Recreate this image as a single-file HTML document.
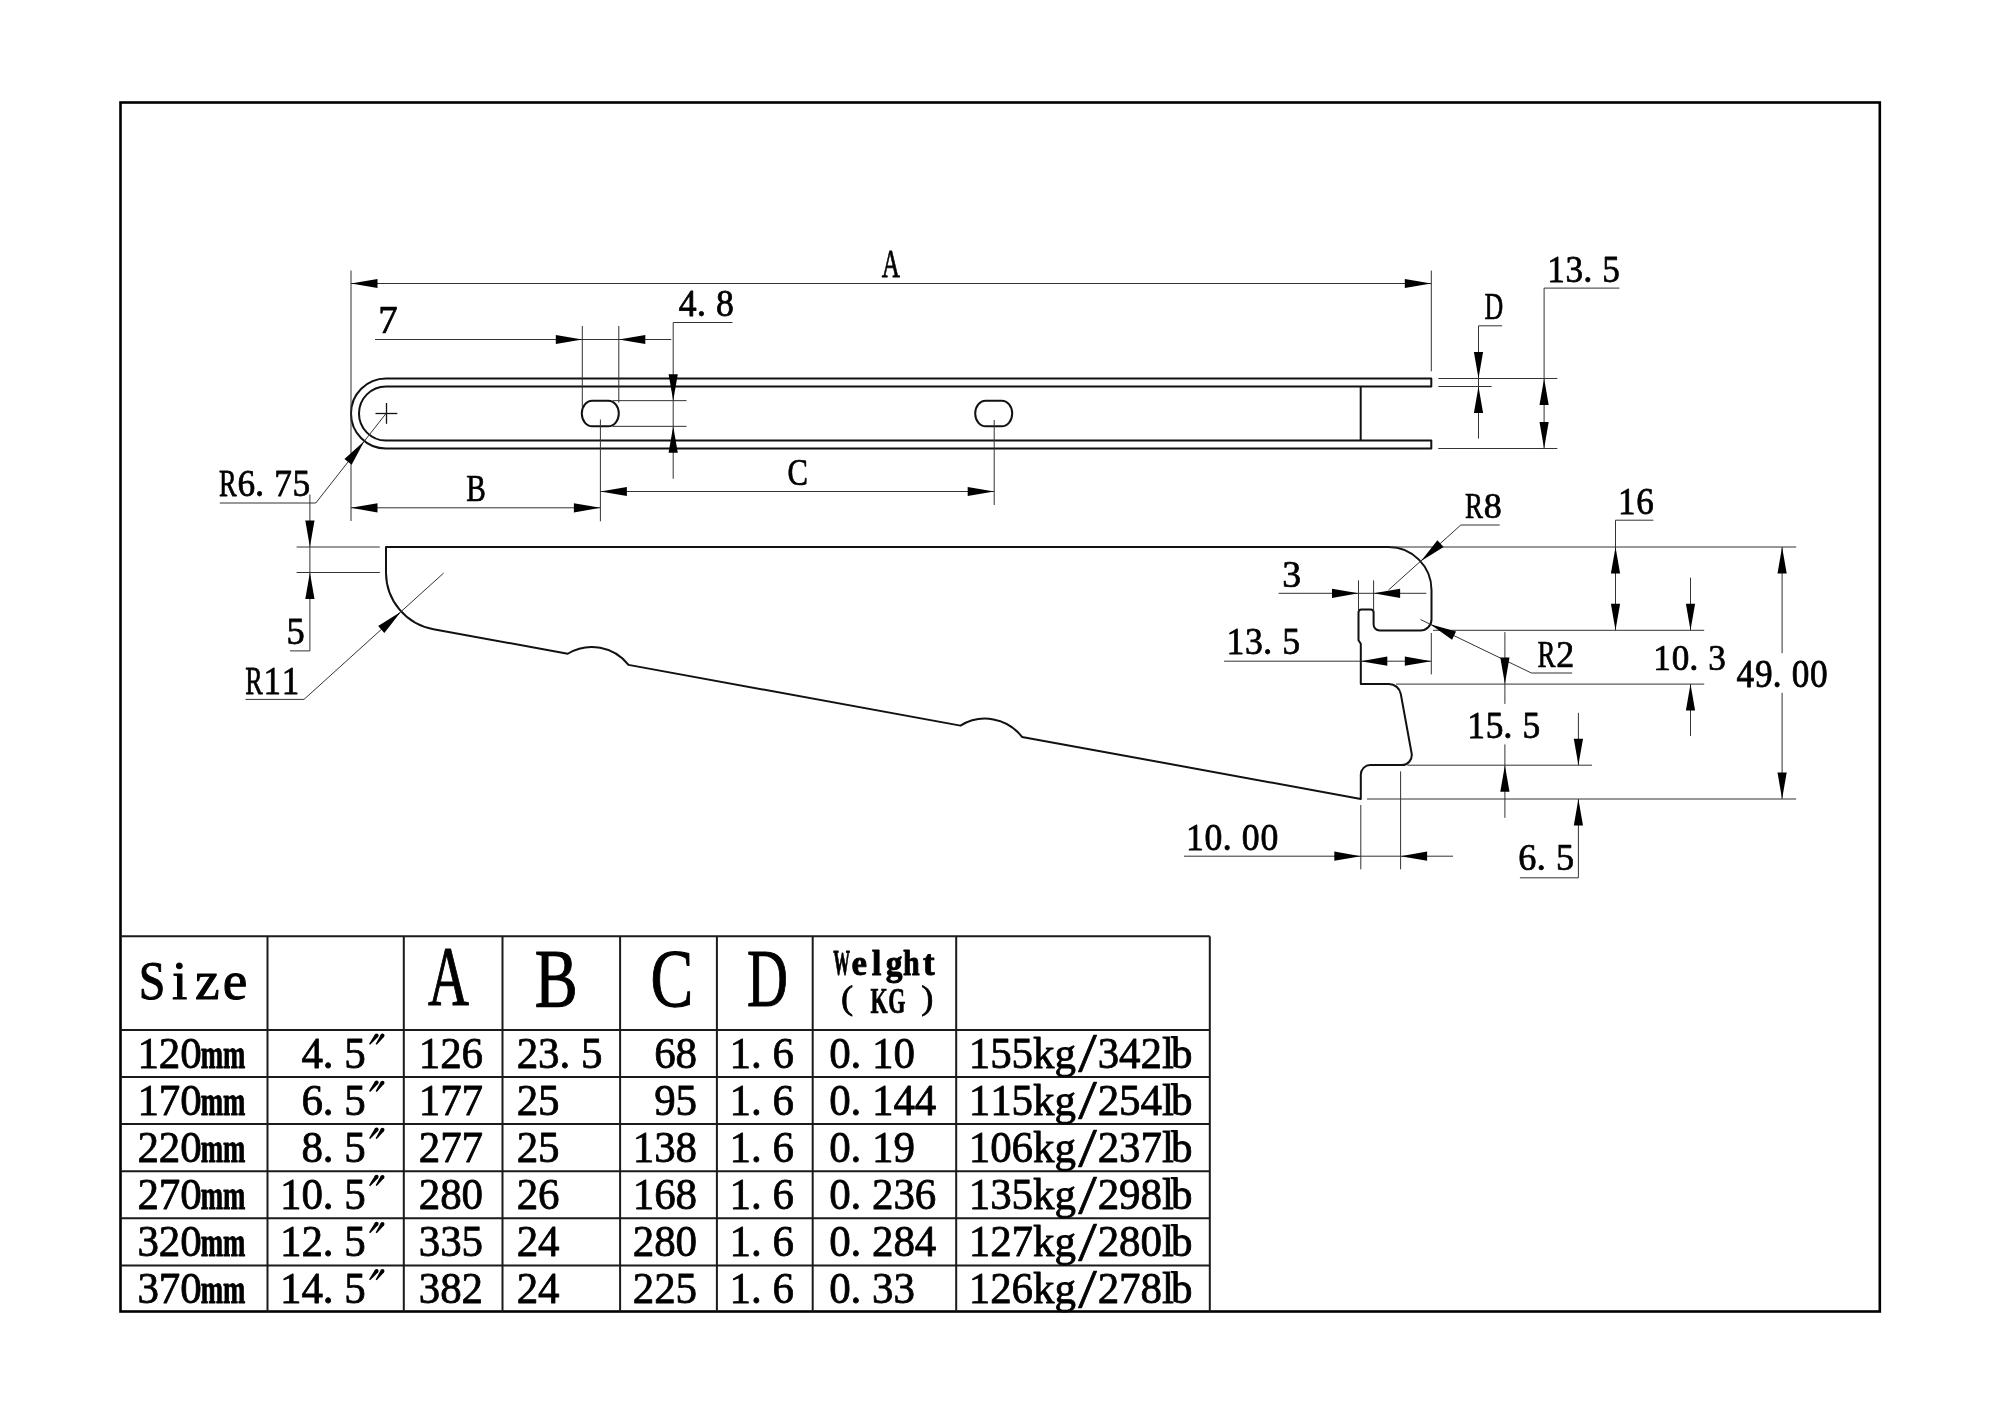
<!DOCTYPE html>
<html><head><meta charset="utf-8"><title>Bracket drawing</title>
<style>
html,body{margin:0;padding:0;background:#fff;}
body{width:2000px;height:1414px;overflow:hidden;}
svg{display:block;}
text{font-family:"Liberation Serif",serif;}
svg{will-change:transform;}
</style></head>
<body>
<svg width="2000" height="1414" viewBox="0 0 2000 1414">
<rect width="2000" height="1414" fill="#fff"/>
<rect x="120.5" y="102.5" width="1759.3" height="1209" fill="none" stroke="#000" stroke-width="2.6"/>
<line x1="120.5" y1="936.2" x2="1209.8" y2="936.2" stroke="#1a1a1a" stroke-width="2.0"/>
<line x1="120.5" y1="1029.9" x2="1209.8" y2="1029.9" stroke="#1a1a1a" stroke-width="2.0"/>
<line x1="120.5" y1="1077" x2="1209.8" y2="1077" stroke="#1a1a1a" stroke-width="2.0"/>
<line x1="120.5" y1="1124.1" x2="1209.8" y2="1124.1" stroke="#1a1a1a" stroke-width="2.0"/>
<line x1="120.5" y1="1171.2" x2="1209.8" y2="1171.2" stroke="#1a1a1a" stroke-width="2.0"/>
<line x1="120.5" y1="1218.3" x2="1209.8" y2="1218.3" stroke="#1a1a1a" stroke-width="2.0"/>
<line x1="120.5" y1="1265.4" x2="1209.8" y2="1265.4" stroke="#1a1a1a" stroke-width="2.0"/>
<line x1="267.5" y1="936.2" x2="267.5" y2="1311.5" stroke="#1a1a1a" stroke-width="2.0"/>
<line x1="403.8" y1="936.2" x2="403.8" y2="1311.5" stroke="#1a1a1a" stroke-width="2.0"/>
<line x1="502.5" y1="936.2" x2="502.5" y2="1311.5" stroke="#1a1a1a" stroke-width="2.0"/>
<line x1="620.1" y1="936.2" x2="620.1" y2="1311.5" stroke="#1a1a1a" stroke-width="2.0"/>
<line x1="716.9" y1="936.2" x2="716.9" y2="1311.5" stroke="#1a1a1a" stroke-width="2.0"/>
<line x1="812.7" y1="936.2" x2="812.7" y2="1311.5" stroke="#1a1a1a" stroke-width="2.0"/>
<line x1="956.2" y1="936.2" x2="956.2" y2="1311.5" stroke="#1a1a1a" stroke-width="2.0"/>
<line x1="1209.8" y1="936.2" x2="1209.8" y2="1311.5" stroke="#1a1a1a" stroke-width="2.0"/>
<text transform="translate(137.4 1067.9) scale(0.9492 1)" x="0 22.54 45.09" y="0" font-size="45.3" font-weight="normal" fill="#000" stroke="#000" stroke-width="0.80" stroke-linejoin="round">120</text>
<g transform="matrix(0.26818 0 0 0.43082 200.78 1067.9)" font-size="100" font-weight="bold" fill="#000" stroke="#000" stroke-width="2.21" stroke-linejoin="round"><text x="0" y="0">m</text><text x="83.3" y="0">m</text></g>
<text transform="translate(301.4 1067.9) scale(0.9492 1)" x="0 22.54 45.09" y="0" font-size="45.3" font-weight="normal" fill="#000" stroke="#000" stroke-width="0.80" stroke-linejoin="round">4.5</text>
<polygon points="375.02,1034.17 369.05,1043.97 370.15,1044.83 378.18,1036.63" fill="#000"/><circle cx="376.6" cy="1035.4" r="2" fill="#000"/>
<polygon points="380.87,1034.44 375.63,1043.99 376.77,1044.81 384.13,1036.76" fill="#000"/><circle cx="382.5" cy="1035.6" r="2" fill="#000"/>
<text transform="translate(418.8 1067.9) scale(0.9492 1)" x="0 22.54 45.09" y="0" font-size="45.3" font-weight="normal" fill="#000" stroke="#000" stroke-width="0.80" stroke-linejoin="round">126</text>
<text transform="translate(516.7 1067.9) scale(0.9492 1)" x="0 22.54 45.09 67.63" y="0" font-size="45.3" font-weight="normal" fill="#000" stroke="#000" stroke-width="0.80" stroke-linejoin="round">23.5</text>
<text transform="translate(654.2 1067.9) scale(0.9492 1)" x="0 22.54" y="0" font-size="45.3" font-weight="normal" fill="#000" stroke="#000" stroke-width="0.80" stroke-linejoin="round">68</text>
<text transform="translate(729.6 1067.9) scale(0.9492 1)" x="0 22.54 45.09" y="0" font-size="45.3" font-weight="normal" fill="#000" stroke="#000" stroke-width="0.80" stroke-linejoin="round">1.6</text>
<text transform="translate(829.2 1067.9) scale(0.9492 1)" x="0 22.54 45.09 67.63" y="0" font-size="45.3" font-weight="normal" fill="#000" stroke="#000" stroke-width="0.80" stroke-linejoin="round">0.10</text>
<text transform="translate(968.8 1067.9) scale(0.9492 1)" x="0 22.54 45.09 67.63 90.18" y="0" font-size="45.3" font-weight="normal" fill="#000" stroke="#000" stroke-width="0.80" stroke-linejoin="round">155kg</text>
<g transform="matrix(0.66947 0 0 0.55311 1078.2 1071.36)" font-size="100" font-weight="normal" fill="#000" stroke="#000" stroke-width="1.23" stroke-linejoin="round"><text x="0" y="0">/</text></g>
<text transform="translate(1097.7 1067.9) scale(0.9492 1)" x="0 22.54 45.09 67.63 77.12" y="0" font-size="45.3" font-weight="normal" fill="#000" stroke="#000" stroke-width="0.80" stroke-linejoin="round">342lb</text>
<text transform="translate(137.4 1115) scale(0.9492 1)" x="0 22.54 45.09" y="0" font-size="45.3" font-weight="normal" fill="#000" stroke="#000" stroke-width="0.80" stroke-linejoin="round">170</text>
<g transform="matrix(0.26818 0 0 0.43082 200.78 1115)" font-size="100" font-weight="bold" fill="#000" stroke="#000" stroke-width="2.21" stroke-linejoin="round"><text x="0" y="0">m</text><text x="83.3" y="0">m</text></g>
<text transform="translate(301.4 1115) scale(0.9492 1)" x="0 22.54 45.09" y="0" font-size="45.3" font-weight="normal" fill="#000" stroke="#000" stroke-width="0.80" stroke-linejoin="round">6.5</text>
<polygon points="375.02,1081.27 369.05,1091.07 370.15,1091.93 378.18,1083.73" fill="#000"/><circle cx="376.6" cy="1082.5" r="2" fill="#000"/>
<polygon points="380.87,1081.54 375.63,1091.09 376.77,1091.91 384.13,1083.86" fill="#000"/><circle cx="382.5" cy="1082.7" r="2" fill="#000"/>
<text transform="translate(418.8 1115) scale(0.9492 1)" x="0 22.54 45.09" y="0" font-size="45.3" font-weight="normal" fill="#000" stroke="#000" stroke-width="0.80" stroke-linejoin="round">177</text>
<text transform="translate(516.7 1115) scale(0.9492 1)" x="0 22.54" y="0" font-size="45.3" font-weight="normal" fill="#000" stroke="#000" stroke-width="0.80" stroke-linejoin="round">25</text>
<text transform="translate(654.2 1115) scale(0.9492 1)" x="0 22.54" y="0" font-size="45.3" font-weight="normal" fill="#000" stroke="#000" stroke-width="0.80" stroke-linejoin="round">95</text>
<text transform="translate(729.6 1115) scale(0.9492 1)" x="0 22.54 45.09" y="0" font-size="45.3" font-weight="normal" fill="#000" stroke="#000" stroke-width="0.80" stroke-linejoin="round">1.6</text>
<text transform="translate(829.2 1115) scale(0.9492 1)" x="0 22.54 45.09 67.63 90.18" y="0" font-size="45.3" font-weight="normal" fill="#000" stroke="#000" stroke-width="0.80" stroke-linejoin="round">0.144</text>
<text transform="translate(968.8 1115) scale(0.9492 1)" x="0 22.54 45.09 67.63 90.18" y="0" font-size="45.3" font-weight="normal" fill="#000" stroke="#000" stroke-width="0.80" stroke-linejoin="round">115kg</text>
<g transform="matrix(0.66947 0 0 0.55311 1078.2 1118.46)" font-size="100" font-weight="normal" fill="#000" stroke="#000" stroke-width="1.23" stroke-linejoin="round"><text x="0" y="0">/</text></g>
<text transform="translate(1097.7 1115) scale(0.9492 1)" x="0 22.54 45.09 67.63 77.12" y="0" font-size="45.3" font-weight="normal" fill="#000" stroke="#000" stroke-width="0.80" stroke-linejoin="round">254lb</text>
<text transform="translate(137.4 1162.1) scale(0.9492 1)" x="0 22.54 45.09" y="0" font-size="45.3" font-weight="normal" fill="#000" stroke="#000" stroke-width="0.80" stroke-linejoin="round">220</text>
<g transform="matrix(0.26818 0 0 0.43082 200.78 1162.1)" font-size="100" font-weight="bold" fill="#000" stroke="#000" stroke-width="2.21" stroke-linejoin="round"><text x="0" y="0">m</text><text x="83.3" y="0">m</text></g>
<text transform="translate(301.4 1162.1) scale(0.9492 1)" x="0 22.54 45.09" y="0" font-size="45.3" font-weight="normal" fill="#000" stroke="#000" stroke-width="0.80" stroke-linejoin="round">8.5</text>
<polygon points="375.02,1128.37 369.05,1138.17 370.15,1139.03 378.18,1130.83" fill="#000"/><circle cx="376.6" cy="1129.6" r="2" fill="#000"/>
<polygon points="380.87,1128.64 375.63,1138.19 376.77,1139.01 384.13,1130.96" fill="#000"/><circle cx="382.5" cy="1129.8" r="2" fill="#000"/>
<text transform="translate(418.8 1162.1) scale(0.9492 1)" x="0 22.54 45.09" y="0" font-size="45.3" font-weight="normal" fill="#000" stroke="#000" stroke-width="0.80" stroke-linejoin="round">277</text>
<text transform="translate(516.7 1162.1) scale(0.9492 1)" x="0 22.54" y="0" font-size="45.3" font-weight="normal" fill="#000" stroke="#000" stroke-width="0.80" stroke-linejoin="round">25</text>
<text transform="translate(632.8 1162.1) scale(0.9492 1)" x="0 22.54 45.09" y="0" font-size="45.3" font-weight="normal" fill="#000" stroke="#000" stroke-width="0.80" stroke-linejoin="round">138</text>
<text transform="translate(729.6 1162.1) scale(0.9492 1)" x="0 22.54 45.09" y="0" font-size="45.3" font-weight="normal" fill="#000" stroke="#000" stroke-width="0.80" stroke-linejoin="round">1.6</text>
<text transform="translate(829.2 1162.1) scale(0.9492 1)" x="0 22.54 45.09 67.63" y="0" font-size="45.3" font-weight="normal" fill="#000" stroke="#000" stroke-width="0.80" stroke-linejoin="round">0.19</text>
<text transform="translate(968.8 1162.1) scale(0.9492 1)" x="0 22.54 45.09 67.63 90.18" y="0" font-size="45.3" font-weight="normal" fill="#000" stroke="#000" stroke-width="0.80" stroke-linejoin="round">106kg</text>
<g transform="matrix(0.66947 0 0 0.55311 1078.2 1165.56)" font-size="100" font-weight="normal" fill="#000" stroke="#000" stroke-width="1.23" stroke-linejoin="round"><text x="0" y="0">/</text></g>
<text transform="translate(1097.7 1162.1) scale(0.9492 1)" x="0 22.54 45.09 67.63 77.12" y="0" font-size="45.3" font-weight="normal" fill="#000" stroke="#000" stroke-width="0.80" stroke-linejoin="round">237lb</text>
<text transform="translate(137.4 1209.2) scale(0.9492 1)" x="0 22.54 45.09" y="0" font-size="45.3" font-weight="normal" fill="#000" stroke="#000" stroke-width="0.80" stroke-linejoin="round">270</text>
<g transform="matrix(0.26818 0 0 0.43082 200.78 1209.2)" font-size="100" font-weight="bold" fill="#000" stroke="#000" stroke-width="2.21" stroke-linejoin="round"><text x="0" y="0">m</text><text x="83.3" y="0">m</text></g>
<text transform="translate(280 1209.2) scale(0.9492 1)" x="0 22.54 45.09 67.63" y="0" font-size="45.3" font-weight="normal" fill="#000" stroke="#000" stroke-width="0.80" stroke-linejoin="round">10.5</text>
<polygon points="375.02,1175.47 369.05,1185.27 370.15,1186.13 378.18,1177.93" fill="#000"/><circle cx="376.6" cy="1176.7" r="2" fill="#000"/>
<polygon points="380.87,1175.74 375.63,1185.29 376.77,1186.11 384.13,1178.06" fill="#000"/><circle cx="382.5" cy="1176.9" r="2" fill="#000"/>
<text transform="translate(418.8 1209.2) scale(0.9492 1)" x="0 22.54 45.09" y="0" font-size="45.3" font-weight="normal" fill="#000" stroke="#000" stroke-width="0.80" stroke-linejoin="round">280</text>
<text transform="translate(516.7 1209.2) scale(0.9492 1)" x="0 22.54" y="0" font-size="45.3" font-weight="normal" fill="#000" stroke="#000" stroke-width="0.80" stroke-linejoin="round">26</text>
<text transform="translate(632.8 1209.2) scale(0.9492 1)" x="0 22.54 45.09" y="0" font-size="45.3" font-weight="normal" fill="#000" stroke="#000" stroke-width="0.80" stroke-linejoin="round">168</text>
<text transform="translate(729.6 1209.2) scale(0.9492 1)" x="0 22.54 45.09" y="0" font-size="45.3" font-weight="normal" fill="#000" stroke="#000" stroke-width="0.80" stroke-linejoin="round">1.6</text>
<text transform="translate(829.2 1209.2) scale(0.9492 1)" x="0 22.54 45.09 67.63 90.18" y="0" font-size="45.3" font-weight="normal" fill="#000" stroke="#000" stroke-width="0.80" stroke-linejoin="round">0.236</text>
<text transform="translate(968.8 1209.2) scale(0.9492 1)" x="0 22.54 45.09 67.63 90.18" y="0" font-size="45.3" font-weight="normal" fill="#000" stroke="#000" stroke-width="0.80" stroke-linejoin="round">135kg</text>
<g transform="matrix(0.66947 0 0 0.55311 1078.2 1212.66)" font-size="100" font-weight="normal" fill="#000" stroke="#000" stroke-width="1.23" stroke-linejoin="round"><text x="0" y="0">/</text></g>
<text transform="translate(1097.7 1209.2) scale(0.9492 1)" x="0 22.54 45.09 67.63 77.12" y="0" font-size="45.3" font-weight="normal" fill="#000" stroke="#000" stroke-width="0.80" stroke-linejoin="round">298lb</text>
<text transform="translate(137.4 1256.3) scale(0.9492 1)" x="0 22.54 45.09" y="0" font-size="45.3" font-weight="normal" fill="#000" stroke="#000" stroke-width="0.80" stroke-linejoin="round">320</text>
<g transform="matrix(0.26818 0 0 0.43082 200.78 1256.3)" font-size="100" font-weight="bold" fill="#000" stroke="#000" stroke-width="2.21" stroke-linejoin="round"><text x="0" y="0">m</text><text x="83.3" y="0">m</text></g>
<text transform="translate(280 1256.3) scale(0.9492 1)" x="0 22.54 45.09 67.63" y="0" font-size="45.3" font-weight="normal" fill="#000" stroke="#000" stroke-width="0.80" stroke-linejoin="round">12.5</text>
<polygon points="375.02,1222.57 369.05,1232.37 370.15,1233.23 378.18,1225.03" fill="#000"/><circle cx="376.6" cy="1223.8" r="2" fill="#000"/>
<polygon points="380.87,1222.84 375.63,1232.39 376.77,1233.21 384.13,1225.16" fill="#000"/><circle cx="382.5" cy="1224" r="2" fill="#000"/>
<text transform="translate(418.8 1256.3) scale(0.9492 1)" x="0 22.54 45.09" y="0" font-size="45.3" font-weight="normal" fill="#000" stroke="#000" stroke-width="0.80" stroke-linejoin="round">335</text>
<text transform="translate(516.7 1256.3) scale(0.9492 1)" x="0 22.54" y="0" font-size="45.3" font-weight="normal" fill="#000" stroke="#000" stroke-width="0.80" stroke-linejoin="round">24</text>
<text transform="translate(632.8 1256.3) scale(0.9492 1)" x="0 22.54 45.09" y="0" font-size="45.3" font-weight="normal" fill="#000" stroke="#000" stroke-width="0.80" stroke-linejoin="round">280</text>
<text transform="translate(729.6 1256.3) scale(0.9492 1)" x="0 22.54 45.09" y="0" font-size="45.3" font-weight="normal" fill="#000" stroke="#000" stroke-width="0.80" stroke-linejoin="round">1.6</text>
<text transform="translate(829.2 1256.3) scale(0.9492 1)" x="0 22.54 45.09 67.63 90.18" y="0" font-size="45.3" font-weight="normal" fill="#000" stroke="#000" stroke-width="0.80" stroke-linejoin="round">0.284</text>
<text transform="translate(968.8 1256.3) scale(0.9492 1)" x="0 22.54 45.09 67.63 90.18" y="0" font-size="45.3" font-weight="normal" fill="#000" stroke="#000" stroke-width="0.80" stroke-linejoin="round">127kg</text>
<g transform="matrix(0.66947 0 0 0.55311 1078.2 1259.76)" font-size="100" font-weight="normal" fill="#000" stroke="#000" stroke-width="1.23" stroke-linejoin="round"><text x="0" y="0">/</text></g>
<text transform="translate(1097.7 1256.3) scale(0.9492 1)" x="0 22.54 45.09 67.63 77.12" y="0" font-size="45.3" font-weight="normal" fill="#000" stroke="#000" stroke-width="0.80" stroke-linejoin="round">280lb</text>
<text transform="translate(137.4 1303.4) scale(0.9492 1)" x="0 22.54 45.09" y="0" font-size="45.3" font-weight="normal" fill="#000" stroke="#000" stroke-width="0.80" stroke-linejoin="round">370</text>
<g transform="matrix(0.26818 0 0 0.43082 200.78 1303.4)" font-size="100" font-weight="bold" fill="#000" stroke="#000" stroke-width="2.21" stroke-linejoin="round"><text x="0" y="0">m</text><text x="83.3" y="0">m</text></g>
<text transform="translate(280 1303.4) scale(0.9492 1)" x="0 22.54 45.09 67.63" y="0" font-size="45.3" font-weight="normal" fill="#000" stroke="#000" stroke-width="0.80" stroke-linejoin="round">14.5</text>
<polygon points="375.02,1269.67 369.05,1279.47 370.15,1280.33 378.18,1272.13" fill="#000"/><circle cx="376.6" cy="1270.9" r="2" fill="#000"/>
<polygon points="380.87,1269.94 375.63,1279.49 376.77,1280.31 384.13,1272.26" fill="#000"/><circle cx="382.5" cy="1271.1" r="2" fill="#000"/>
<text transform="translate(418.8 1303.4) scale(0.9492 1)" x="0 22.54 45.09" y="0" font-size="45.3" font-weight="normal" fill="#000" stroke="#000" stroke-width="0.80" stroke-linejoin="round">382</text>
<text transform="translate(516.7 1303.4) scale(0.9492 1)" x="0 22.54" y="0" font-size="45.3" font-weight="normal" fill="#000" stroke="#000" stroke-width="0.80" stroke-linejoin="round">24</text>
<text transform="translate(632.8 1303.4) scale(0.9492 1)" x="0 22.54 45.09" y="0" font-size="45.3" font-weight="normal" fill="#000" stroke="#000" stroke-width="0.80" stroke-linejoin="round">225</text>
<text transform="translate(729.6 1303.4) scale(0.9492 1)" x="0 22.54 45.09" y="0" font-size="45.3" font-weight="normal" fill="#000" stroke="#000" stroke-width="0.80" stroke-linejoin="round">1.6</text>
<text transform="translate(829.2 1303.4) scale(0.9492 1)" x="0 22.54 45.09 67.63" y="0" font-size="45.3" font-weight="normal" fill="#000" stroke="#000" stroke-width="0.80" stroke-linejoin="round">0.33</text>
<text transform="translate(968.8 1303.4) scale(0.9492 1)" x="0 22.54 45.09 67.63 90.18" y="0" font-size="45.3" font-weight="normal" fill="#000" stroke="#000" stroke-width="0.80" stroke-linejoin="round">126kg</text>
<g transform="matrix(0.66947 0 0 0.55311 1078.2 1306.86)" font-size="100" font-weight="normal" fill="#000" stroke="#000" stroke-width="1.23" stroke-linejoin="round"><text x="0" y="0">/</text></g>
<text transform="translate(1097.7 1303.4) scale(0.9492 1)" x="0 22.54 45.09 67.63 77.12" y="0" font-size="45.3" font-weight="normal" fill="#000" stroke="#000" stroke-width="0.80" stroke-linejoin="round">278lb</text>
<g transform="matrix(0.55362 0 0 0.55882 138.15 999)" font-size="100" font-weight="normal" fill="#000" stroke="#000" stroke-width="1.80" stroke-linejoin="round"><text transform="translate(1 0) scale(0.8631 1)">S</text><text x="61.11" y="0">i</text><text x="102.81" y="0">z</text><text x="152.81" y="0">e</text></g>
<g transform="matrix(0.85353 0 0 0.85434 427.19 1005.2)" font-size="100" font-weight="normal" fill="#000" stroke="#000" stroke-width="1.29" stroke-linejoin="round"><text transform="translate(1 0) scale(0.6647 1)">A</text></g>
<g transform="matrix(0.89595 0 0 0.83015 533.85 1006.06)" font-size="100" font-weight="normal" fill="#000" stroke="#000" stroke-width="1.28" stroke-linejoin="round"><text transform="translate(1 0) scale(0.7196 1)">B</text></g>
<g transform="matrix(0.89100 0 0 0.83349 649.58 1006.29)" font-size="100" font-weight="normal" fill="#000" stroke="#000" stroke-width="1.28" stroke-linejoin="round"><text transform="translate(1 0) scale(0.7196 1)">C</text></g>
<g transform="matrix(0.85206 0 0 0.82986 746.22 1006.44)" font-size="100" font-weight="normal" fill="#000" stroke="#000" stroke-width="1.31" stroke-linejoin="round"><text transform="translate(1 0) scale(0.6647 1)">D</text></g>
<g transform="matrix(0.34849 0 0 0.36806 833.01 975.1)" font-size="100" font-weight="bold" fill="#000" stroke="#000" stroke-width="2.51" stroke-linejoin="round"><text transform="translate(1 0) scale(0.4800 1)">W</text><text x="52.81" y="0">e</text><text x="111.11" y="0">l</text><text transform="translate(151 0) scale(0.9600 1)">g</text><text transform="translate(201 0) scale(0.8631 1)">h</text><text x="258.35" y="0">t</text></g>
<g transform="matrix(0.36599 0 0 0.34740 837.94 1008.6)" font-size="100" font-weight="normal" fill="#000" stroke="#000" stroke-width="2.10" stroke-linejoin="round"><text x="8.35" y="0">(</text></g>
<g transform="matrix(0.35798 0 0 0.36248 870.06 1012.6)" font-size="100" font-weight="bold" fill="#000" stroke="#000" stroke-width="1.94" stroke-linejoin="round"><text transform="translate(1 0) scale(0.6171 1)">K</text><text transform="translate(51 0) scale(0.6171 1)">G</text></g>
<g transform="matrix(0.36599 0 0 0.34740 918.26 1008.6)" font-size="100" font-weight="normal" fill="#000" stroke="#000" stroke-width="2.10" stroke-linejoin="round"><text x="8.35" y="0">)</text></g>
<path d="M1431.3,378.5 H386 A35,35 0 0 0 386,448.5 H1431.3 V440.5 H386 A27,27 0 0 1 386,386.5 H1431.3 Z" fill="none" stroke="#111" stroke-width="2.0" stroke-linejoin="round"/>
<line x1="1360.7" y1="386.5" x2="1360.7" y2="440.5" stroke="#111" stroke-width="2.0"/>
<rect x="581.8" y="400.65" width="37" height="25.7" rx="10.5" ry="12.85" fill="none" stroke="#111" stroke-width="2.0"/>
<rect x="975.2" y="400.65" width="37" height="25.7" rx="10.5" ry="12.85" fill="none" stroke="#111" stroke-width="2.0"/>
<line x1="375.5" y1="413.5" x2="397.3" y2="413.5" stroke="#111" stroke-width="1.3"/>
<line x1="386.5" y1="403" x2="386.5" y2="423.8" stroke="#111" stroke-width="1.3"/>
<line x1="351" y1="270.5" x2="351" y2="521" stroke="#333" stroke-width="1.0"/>
<line x1="1431.3" y1="270.6" x2="1431.3" y2="371.3" stroke="#333" stroke-width="1.0"/>
<line x1="351" y1="283.5" x2="1431.3" y2="283.5" stroke="#333" stroke-width="1.0"/>
<polygon points="351,283.5 377.5,278.9 377.5,288.1" fill="#000"/>
<polygon points="1431.3,283.5 1404.8,288.1 1404.8,278.9" fill="#000"/>
<g transform="matrix(0.37982 0 0 0.39233 881.47 277.1)" font-size="100" font-weight="normal" fill="#000" stroke="#000" stroke-width="1.94" stroke-linejoin="round"><text transform="translate(1 0) scale(0.6647 1)">A</text></g>
<line x1="375" y1="339.5" x2="671.3" y2="339.5" stroke="#333" stroke-width="1.0"/>
<polygon points="582.3,339.5 555.8,344.1 555.8,334.9" fill="#000"/>
<polygon points="618.8,339.5 645.3,334.9 645.3,344.1" fill="#000"/>
<line x1="582.3" y1="326" x2="582.3" y2="407" stroke="#333" stroke-width="1.0"/>
<line x1="618.8" y1="326" x2="618.8" y2="402.5" stroke="#333" stroke-width="1.0"/>
<g transform="matrix(0.40610 0 0 0.39708 377.92 332.7)" font-size="100" font-weight="normal" fill="#000" stroke="#000" stroke-width="1.87" stroke-linejoin="round"><text transform="translate(1 0) scale(0.9600 1)">7</text></g>
<polyline points="732.5,322.5 673.2,322.5 673.2,478.8" fill="none" stroke="#333" stroke-width="1.0"/>
<polygon points="673.2,400.65 668.6,374.15 677.8,374.15" fill="#000"/>
<polygon points="673.2,426.35 677.8,452.85 668.6,452.85" fill="#000"/>
<line x1="612.5" y1="400.65" x2="686.5" y2="400.65" stroke="#333" stroke-width="1.0"/>
<line x1="612.5" y1="426.35" x2="686.5" y2="426.35" stroke="#333" stroke-width="1.0"/>
<g transform="matrix(0.37201 0 0 0.37592 678.43 316.3)" font-size="100" font-weight="normal" fill="#000" stroke="#000" stroke-width="2.01" stroke-linejoin="round"><text transform="translate(1 0) scale(0.9600 1)">4</text><text x="49" y="0">.</text><text transform="translate(101 0) scale(0.9600 1)">8</text></g>
<line x1="600.4" y1="419.5" x2="600.4" y2="521.3" stroke="#333" stroke-width="1.0"/>
<line x1="351" y1="507.8" x2="600.4" y2="507.8" stroke="#333" stroke-width="1.0"/>
<polygon points="351,507.8 377.5,503.2 377.5,512.4" fill="#000"/>
<polygon points="600.4,507.8 573.9,512.4 573.9,503.2" fill="#000"/>
<g transform="matrix(0.40789 0 0 0.37722 465.75 501)" font-size="100" font-weight="normal" fill="#000" stroke="#000" stroke-width="1.91" stroke-linejoin="round"><text transform="translate(1 0) scale(0.7196 1)">B</text></g>
<line x1="994.2" y1="420" x2="994.2" y2="505" stroke="#333" stroke-width="1.0"/>
<line x1="600.4" y1="491.5" x2="994.2" y2="491.5" stroke="#333" stroke-width="1.0"/>
<polygon points="600.4,491.5 626.9,486.9 626.9,496.1" fill="#000"/>
<polygon points="994.2,491.5 967.7,496.1 967.7,486.9" fill="#000"/>
<g transform="matrix(0.42602 0 0 0.38513 787.12 485)" font-size="100" font-weight="normal" fill="#000" stroke="#000" stroke-width="1.85" stroke-linejoin="round"><text transform="translate(1 0) scale(0.7196 1)">C</text></g>
<polyline points="219.8,503 315.8,503 386,413.5" fill="none" stroke="#333" stroke-width="1.0"/>
<polygon points="364.4,441 351.66,464.69 344.43,459.01" fill="#000"/>
<g transform="matrix(0.36791 0 0 0.38815 218.67 496.4)" font-size="100" font-weight="normal" fill="#000" stroke="#000" stroke-width="1.98" stroke-linejoin="round"><text transform="translate(1 0) scale(0.7196 1)">R</text><text transform="translate(51 0) scale(0.9600 1)">6</text><text x="99" y="0">.</text><text transform="translate(151 0) scale(0.9600 1)">7</text><text transform="translate(201 0) scale(0.9600 1)">5</text></g>
<polyline points="1502.1,325.8 1478.5,325.8 1478.5,438.6" fill="none" stroke="#333" stroke-width="1.0"/>
<polygon points="1478.5,378.5 1473.9,352 1483.1,352" fill="#000"/>
<polygon points="1478.5,386.5 1483.1,413 1473.9,413" fill="#000"/>
<line x1="1438.3" y1="378.5" x2="1557.3" y2="378.5" stroke="#333" stroke-width="1.0"/>
<line x1="1438.3" y1="386.5" x2="1491.6" y2="386.5" stroke="#333" stroke-width="1.0"/>
<line x1="1438.3" y1="448.5" x2="1557.3" y2="448.5" stroke="#333" stroke-width="1.0"/>
<g transform="matrix(0.38919 0 0 0.37417 1484.07 318.8)" font-size="100" font-weight="normal" fill="#000" stroke="#000" stroke-width="1.97" stroke-linejoin="round"><text transform="translate(1 0) scale(0.6647 1)">D</text></g>
<polyline points="1619.4,288.1 1544.1,288.1 1544.1,448.5" fill="none" stroke="#333" stroke-width="1.0"/>
<polygon points="1544.1,378.5 1548.7,405 1539.5,405" fill="#000"/>
<polygon points="1544.1,448.5 1539.5,422 1548.7,422" fill="#000"/>
<g transform="matrix(0.36704 0 0 0.37909 1546.84 281.7)" font-size="100" font-weight="normal" fill="#000" stroke="#000" stroke-width="2.01" stroke-linejoin="round"><text transform="translate(1 0) scale(0.9600 1)">1</text><text transform="translate(51 0) scale(0.9600 1)">3</text><text x="99" y="0">.</text><text transform="translate(151 0) scale(0.9600 1)">5</text></g>
<path d="M386,547 H1388.5 A43,43 0 0 1 1431.5,590 V619.5 A11,11 0 0 1 1420.5,630.5 H1379.6 A6,6 0 0 1 1373.6,624.5 V612.4 A3,3 0 0 0 1370.6,609.4 H1361.5 A3,3 0 0 0 1358.5,612.4 V640.2 L1360.8,643.7 V684.1 H1389 A12,12 0 0 1 1400.8,693.95 L1411.6,753.3 A10,10 0 0 1 1401.8,765.1 H1370.3 A9.5,9.5 0 0 0 1360.8,774.6 V798.9 L1022,736.9 A46.6,46.6 0 0 0 960.5,725.64 L628.5,664.88 A46.6,46.6 0 0 0 567.7,653.76 L433.5,629.2 A57.6,57.6 0 0 1 386,573 Z" fill="none" stroke="#111" stroke-width="2.0" stroke-linejoin="round"/>
<line x1="1390" y1="547" x2="1796.2" y2="547" stroke="#333" stroke-width="1.0"/>
<line x1="1433" y1="630.3" x2="1704.2" y2="630.3" stroke="#333" stroke-width="1.0"/>
<line x1="1396" y1="684.1" x2="1704.2" y2="684.1" stroke="#333" stroke-width="1.0"/>
<line x1="1407.4" y1="765.2" x2="1592" y2="765.2" stroke="#333" stroke-width="1.0"/>
<line x1="1367" y1="799" x2="1796.2" y2="799" stroke="#333" stroke-width="1.0"/>
<polyline points="290,650.9 309.9,650.9 309.9,494.5" fill="none" stroke="#333" stroke-width="1.0"/>
<polygon points="309.9,547 305.3,520.5 314.5,520.5" fill="#000"/>
<polygon points="309.9,572.5 314.5,599 305.3,599" fill="#000"/>
<line x1="296.6" y1="547" x2="379.8" y2="547" stroke="#333" stroke-width="1.0"/>
<line x1="296.6" y1="572.5" x2="379.8" y2="572.5" stroke="#333" stroke-width="1.0"/>
<g transform="matrix(0.38012 0 0 0.37875 286.2 644)" font-size="100" font-weight="normal" fill="#000" stroke="#000" stroke-width="1.98" stroke-linejoin="round"><text transform="translate(1 0) scale(0.9600 1)">5</text></g>
<polyline points="245.5,699.4 304,699.4 443.6,573.1" fill="none" stroke="#333" stroke-width="1.0"/>
<polygon points="400.9,611.7 384.34,632.89 378.16,626.07" fill="#000"/>
<g transform="matrix(0.36387 0 0 0.39082 244.88 693.5)" font-size="100" font-weight="normal" fill="#000" stroke="#000" stroke-width="1.99" stroke-linejoin="round"><text transform="translate(1 0) scale(0.7196 1)">R</text><text transform="translate(51 0) scale(0.9600 1)">1</text><text transform="translate(101 0) scale(0.9600 1)">1</text></g>
<line x1="1278.6" y1="593.3" x2="1426.3" y2="593.3" stroke="#333" stroke-width="1.0"/>
<polygon points="1358.5,593.3 1332,597.9 1332,588.7" fill="#000"/>
<polygon points="1373.6,593.3 1400.1,588.7 1400.1,597.9" fill="#000"/>
<line x1="1358.5" y1="580.4" x2="1358.5" y2="611" stroke="#333" stroke-width="1.0"/>
<line x1="1373.6" y1="580.4" x2="1373.6" y2="611" stroke="#333" stroke-width="1.0"/>
<g transform="matrix(0.39338 0 0 0.38211 1281.8 587)" font-size="100" font-weight="normal" fill="#000" stroke="#000" stroke-width="1.93" stroke-linejoin="round"><text transform="translate(1 0) scale(0.9600 1)">3</text></g>
<polyline points="1499.7,525 1460.8,525 1388.5,590" fill="none" stroke="#333" stroke-width="1.0"/>
<polygon points="1420.8,561.3 1437.43,540.16 1443.58,547" fill="#000"/>
<g transform="matrix(0.37498 0 0 0.35336 1464.65 518.3)" font-size="100" font-weight="normal" fill="#000" stroke="#000" stroke-width="2.06" stroke-linejoin="round"><text transform="translate(1 0) scale(0.7196 1)">R</text><text transform="translate(51 0) scale(0.9600 1)">8</text></g>
<line x1="1224.1" y1="661.2" x2="1431.3" y2="661.2" stroke="#333" stroke-width="1.0"/>
<polygon points="1360.8,661.2 1387.3,656.6 1387.3,665.8" fill="#000"/>
<polygon points="1431.3,661.2 1404.8,665.8 1404.8,656.6" fill="#000"/>
<line x1="1431.3" y1="633" x2="1431.3" y2="674.4" stroke="#333" stroke-width="1.0"/>
<g transform="matrix(0.37242 0 0 0.37607 1226.09 654.3)" font-size="100" font-weight="normal" fill="#000" stroke="#000" stroke-width="2.00" stroke-linejoin="round"><text transform="translate(1 0) scale(0.9600 1)">1</text><text transform="translate(51 0) scale(0.9600 1)">3</text><text x="99" y="0">.</text><text transform="translate(151 0) scale(0.9600 1)">5</text></g>
<polyline points="1572.2,673 1531.4,673 1420.5,619.5" fill="none" stroke="#333" stroke-width="1.0"/>
<polygon points="1430.2,624.2 1456.07,631.57 1452.07,639.86" fill="#000"/>
<g transform="matrix(0.37405 0 0 0.37456 1537.15 666.8)" font-size="100" font-weight="normal" fill="#000" stroke="#000" stroke-width="2.00" stroke-linejoin="round"><text transform="translate(1 0) scale(0.7196 1)">R</text><text transform="translate(51 0) scale(0.9600 1)">2</text></g>
<polyline points="1653.4,520.2 1615.5,520.2 1615.5,630.3" fill="none" stroke="#333" stroke-width="1.0"/>
<polygon points="1615.5,547 1620.1,573.5 1610.9,573.5" fill="#000"/>
<polygon points="1615.5,630.3 1610.9,603.8 1620.1,603.8" fill="#000"/>
<g transform="matrix(0.36562 0 0 0.37305 1617.55 514)" font-size="100" font-weight="normal" fill="#000" stroke="#000" stroke-width="2.03" stroke-linejoin="round"><text transform="translate(1 0) scale(0.9600 1)">1</text><text transform="translate(51 0) scale(0.9600 1)">6</text></g>
<line x1="1690.5" y1="577.7" x2="1690.5" y2="630.3" stroke="#333" stroke-width="1.0"/>
<line x1="1690.5" y1="684.1" x2="1690.5" y2="736.1" stroke="#333" stroke-width="1.0"/>
<polygon points="1690.5,630.3 1685.9,603.8 1695.1,603.8" fill="#000"/>
<polygon points="1690.5,684.1 1695.1,710.6 1685.9,710.6" fill="#000"/>
<g transform="matrix(0.36650 0 0 0.36539 1652.94 670)" font-size="100" font-weight="normal" fill="#000" stroke="#000" stroke-width="2.05" stroke-linejoin="round"><text transform="translate(1 0) scale(0.9600 1)">1</text><text transform="translate(51 0) scale(0.9600 1)">0</text><text x="99" y="0">.</text><text transform="translate(151 0) scale(0.9600 1)">3</text></g>
<line x1="1782.1" y1="547" x2="1782.1" y2="653.2" stroke="#333" stroke-width="1.0"/>
<line x1="1782.1" y1="692.8" x2="1782.1" y2="799" stroke="#333" stroke-width="1.0"/>
<polygon points="1782.1,547 1786.7,573.5 1777.5,573.5" fill="#000"/>
<polygon points="1782.1,799 1777.5,772.5 1786.7,772.5" fill="#000"/>
<g transform="matrix(0.36747 0 0 0.39095 1736.24 686.6)" font-size="100" font-weight="normal" fill="#000" stroke="#000" stroke-width="1.98" stroke-linejoin="round"><text transform="translate(1 0) scale(0.9600 1)">4</text><text transform="translate(51 0) scale(0.9600 1)">9</text><text x="99" y="0">.</text><text transform="translate(151 0) scale(0.9600 1)">0</text><text transform="translate(201 0) scale(0.9600 1)">0</text></g>
<line x1="1504.9" y1="632.1" x2="1504.9" y2="703.9" stroke="#333" stroke-width="1.0"/>
<line x1="1504.9" y1="744.4" x2="1504.9" y2="817.8" stroke="#333" stroke-width="1.0"/>
<polygon points="1504.9,684.1 1500.3,657.6 1509.5,657.6" fill="#000"/>
<polygon points="1504.9,765.2 1509.5,791.7 1500.3,791.7" fill="#000"/>
<g transform="matrix(0.36919 0 0 0.37415 1466.82 737.5)" font-size="100" font-weight="normal" fill="#000" stroke="#000" stroke-width="2.02" stroke-linejoin="round"><text transform="translate(1 0) scale(0.9600 1)">1</text><text transform="translate(51 0) scale(0.9600 1)">5</text><text x="99" y="0">.</text><text transform="translate(151 0) scale(0.9600 1)">5</text></g>
<line x1="1578.4" y1="712.8" x2="1578.4" y2="765.2" stroke="#333" stroke-width="1.0"/>
<polyline points="1578.4,799 1578.4,877.8 1519.9,877.8" fill="none" stroke="#333" stroke-width="1.0"/>
<polygon points="1578.4,765.2 1573.8,738.7 1583,738.7" fill="#000"/>
<polygon points="1578.4,799 1583,825.5 1573.8,825.5" fill="#000"/>
<g transform="matrix(0.37752 0 0 0.37456 1517.97 870.4)" font-size="100" font-weight="normal" fill="#000" stroke="#000" stroke-width="1.99" stroke-linejoin="round"><text transform="translate(1 0) scale(0.9600 1)">6</text><text x="49" y="0">.</text><text transform="translate(101 0) scale(0.9600 1)">5</text></g>
<line x1="1360.8" y1="805" x2="1360.8" y2="869.3" stroke="#333" stroke-width="1.0"/>
<line x1="1400.6" y1="771.4" x2="1400.6" y2="869.3" stroke="#333" stroke-width="1.0"/>
<line x1="1184" y1="856.2" x2="1453" y2="856.2" stroke="#333" stroke-width="1.0"/>
<polygon points="1360.8,856.2 1334.3,860.8 1334.3,851.6" fill="#000"/>
<polygon points="1400.6,856.2 1427.1,851.6 1427.1,860.8" fill="#000"/>
<g transform="matrix(0.37218 0 0 0.38795 1185.59 850.1)" font-size="100" font-weight="normal" fill="#000" stroke="#000" stroke-width="1.97" stroke-linejoin="round"><text transform="translate(1 0) scale(0.9600 1)">1</text><text transform="translate(51 0) scale(0.9600 1)">0</text><text x="99" y="0">.</text><text transform="translate(151 0) scale(0.9600 1)">0</text><text transform="translate(201 0) scale(0.9600 1)">0</text></g>
</svg>
</body></html>
